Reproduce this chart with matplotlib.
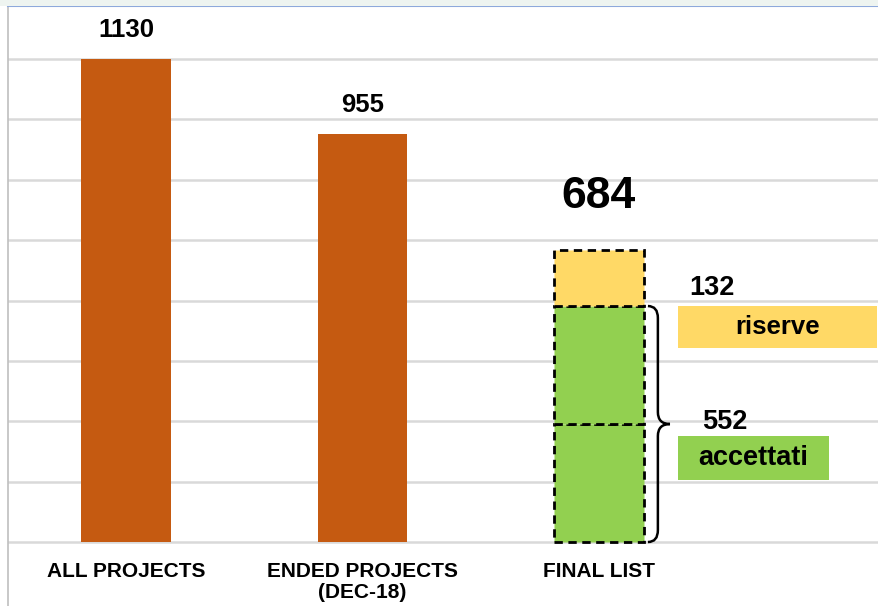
import matplotlib.pyplot as plt
from matplotlib.patches import Rectangle, PathPatch
from matplotlib.path import Path

# data
categories = ["ALL PROJECTS", "ENDED PROJECTS\n(DEC-18)", "FINAL LIST"]
totals = [1130, 955]
accepted = 552
reserves = 132
final_total = accepted + reserves
seg_labels = ["riserve", "accettati"]

ORANGE = "#C55A11"
YELLOW = "#FFD966"
GREEN = "#92D050"
GRID = "#D9D9D9"

plt.rcParams["font.family"] = ["Liberation Sans", "DejaVu Sans"]

fig = plt.figure(figsize=(8.79, 6.06), dpi=100)
fig.patches.append(Rectangle((0, 1 - 6 / 606), 1, 6 / 606, transform=fig.transFigure,
                             facecolor="#EEF4F0", edgecolor="none"))
ax = fig.add_axes([8 / 879, 0, 1 - 8 / 879, 1 - 6 / 606])

ax.set_xlim(-0.499, 3.184)
ax.set_ylim(-149.7, 1254)

# grid lines
step = totals[0] / 8
for i in range(9):
    ax.axhline(i * step, color=GRID, lw=1.8, zorder=0)

w = 0.38
x = [0, 1, 2]
ax.bar(x[:2], totals, width=w, color=ORANGE, zorder=2)
for xi, v in zip(x[:2], totals):
    ax.annotate(str(v), (xi, v), xytext=(0, 21), textcoords="offset points",
                ha="center", va="center", fontsize=18.5, fontweight="bold")

# final list stacked bar with dashed outlines
dash = (0, (3, 2))
half = accepted / 2
ax.bar(x[2], half, width=w, color=GREEN, edgecolor="black", lw=2, ls=dash, zorder=2)
ax.bar(x[2], half, bottom=half, width=w, color=GREEN, edgecolor="black", lw=2, ls=dash, zorder=2)
ax.bar(x[2], reserves, bottom=accepted, width=w, color=YELLOW, edgecolor="black", lw=2,
       ls=dash, zorder=2)
ax.annotate(str(final_total), (x[2], final_total), xytext=(0, 38), textcoords="offset points",
            ha="center", va="center", fontsize=32, fontweight="bold")

# brace next to the accepted segment
x0, x1, x2 = 2.207, 2.249, 2.30
top, bot = accepted, 0
mid = (top + bot) / 2
r = 28
verts = [(x0, top), (x1, top), (x1, top - r), (x1, mid + r), (x1, mid), (x2, mid),
         (x1, mid), (x1, mid - r), (x1, bot + r), (x1, bot), (x0, bot)]
codes = [Path.MOVETO, Path.CURVE3, Path.CURVE3, Path.LINETO, Path.CURVE3, Path.CURVE3,
         Path.CURVE3, Path.CURVE3, Path.LINETO, Path.CURVE3, Path.CURVE3]
ax.add_patch(PathPatch(Path(verts, codes), facecolor="none", edgecolor="black", lw=1.8, zorder=3))

# label boxes
bx = 2.334
box_h = 98
ax.add_patch(Rectangle((bx, accepted - box_h), 0.841, box_h, facecolor=YELLOW,
                       edgecolor="none", zorder=2))
ax.text(bx + 0.841 / 2, accepted - box_h / 2, seg_labels[0], ha="center", va="center",
        fontsize=18.5, fontweight="bold", zorder=4)
ax.text(bx + 0.145, accepted + 42, str(reserves), ha="center", va="center",
        fontsize=19.5, fontweight="bold")

acc_top = mid - 28
ax.add_patch(Rectangle((bx, acc_top - 103), 0.639, 103, facecolor=GREEN,
                       edgecolor="none", zorder=2))
ax.text(bx + 0.639 / 2, acc_top - 103 / 2, seg_labels[1], ha="center", va="center",
        fontsize=19.5, fontweight="bold", zorder=4)
ax.text(bx + 0.2, acc_top + 32, str(accepted), ha="center", va="center",
        fontsize=19.5, fontweight="bold")

# category labels
for xi, lab in zip(x, categories):
    ax.text(xi, -47, lab, ha="center", va="top", fontsize=15, fontweight="bold",
            linespacing=1.1)

ax.set_xticks([])
ax.set_yticks([])
for s in ["right", "bottom"]:
    ax.spines[s].set_visible(False)
ax.spines["top"].set_color("#8EA9DB")
ax.spines["top"].set_linewidth(1.5)
ax.spines["left"].set_color("#BFBFBF")
ax.spines["left"].set_linewidth(1.2)

fig.savefig("out.png", dpi=100)
